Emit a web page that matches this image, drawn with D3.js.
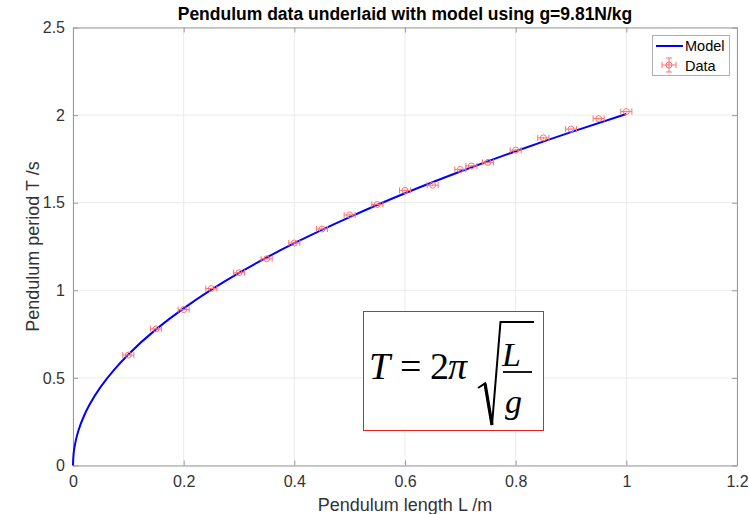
<!DOCTYPE html>
<html>
<head>
<meta charset="utf-8">
<script src="https://cdn.jsdelivr.net/npm/d3@7"></script>
<style>
	body { margin: 0; background: #fff; }
	svg { display: block; font-family: "Liberation Sans", Arial, sans-serif; }
</style>
</head>
<body>
<svg></svg>
<script>
// measured data
var lengths = [0.1, 0.15, 0.2, 0.25, 0.3, 0.35, 0.4, 0.45, 0.5, 0.55, 0.6, 0.65, 0.7, 0.72, 0.75, 0.8, 0.85, 0.9, 0.95, 1.0];
var periods = [0.63, 0.78, 0.89, 1.01, 1.10, 1.18, 1.27, 1.35, 1.43, 1.49, 1.57, 1.60, 1.69, 1.71, 1.73, 1.80, 1.87, 1.92, 1.98, 2.02];
var lengthErr = 0.01;
var periodErr = 0.005;

// model curve
var modelL = [0, 0.001, 0.002, 0.005, 0.01, 0.02, 0.03, 0.05, 0.075, 0.1, 0.15, 0.2, 0.3, 0.4, 0.5, 0.6, 0.7, 0.8, 0.9, 1.0];
var modelT = [0, 0.063, 0.090, 0.142, 0.201, 0.284, 0.348, 0.449, 0.549, 0.634, 0.777, 0.897, 1.099, 1.269, 1.418, 1.554, 1.678, 1.794, 1.903, 2.006];

var xTicks = [0, 0.2, 0.4, 0.6, 0.8, 1, 1.2];
var yTicks = [0, 0.5, 1, 1.5, 2, 2.5];

var width = 749;
var height = 514;
var margin = {
	top: 27.5,
	bottom: 48.5,
	left: 73,
	right: 12
};
var w = width - margin.left - margin.right;
var h = height - margin.top - margin.bottom;

var svg = d3.select('svg')
	.attr('width', width)
	.attr('height', height);

var x = d3.scaleLinear()
	.range([0, w])
	.domain([0, 1.2]);

var y = d3.scaleLinear()
	.range([h, 0])
	.domain([0, 2.5]);

var g = svg.append('g')
	.attr('transform', `translate(${margin.left},${margin.top})`);

// grid
g.selectAll('.vgrid')
	.data(xTicks)
	.enter().append('line')
	.attr('x1', d => x(d)).attr('x2', d => x(d))
	.attr('y1', 0).attr('y2', h)
	.attr('stroke', '#ebebeb');

g.selectAll('.hgrid')
	.data(yTicks)
	.enter().append('line')
	.attr('y1', d => y(d)).attr('y2', d => y(d))
	.attr('x1', 0).attr('x2', w)
	.attr('stroke', '#ebebeb');

function styleAxis(sel) {
	sel.select('.domain').attr('stroke', '#9a9a9a');
	sel.selectAll('.tick line').attr('stroke', '#9a9a9a');
	sel.selectAll('.tick text')
		.attr('fill', '#333')
		.style('font-size', '16px')
		.style('font-family', '"Liberation Sans", Arial, sans-serif');
}

var xAxis = d3.axisBottom(x)
	.tickValues(xTicks)
	.tickFormat(d3.format('~g'))
	.tickSizeInner(-5)
	.tickSizeOuter(0)
	.tickPadding(10);

g.append('g')
	.attr('transform', `translate(0,${h})`)
	.call(xAxis)
	.call(styleAxis);

g.append('g')
	.call(d3.axisTop(x).tickValues(xTicks).tickSizeInner(-5).tickSizeOuter(0).tickFormat(''))
	.call(styleAxis);

var yAxis = d3.axisLeft(y)
	.tickValues(yTicks)
	.tickFormat(d3.format('~g'))
	.tickSizeInner(-5)
	.tickSizeOuter(0)
	.tickPadding(8);

g.append('g')
	.call(yAxis)
	.call(styleAxis);

g.append('g')
	.attr('transform', `translate(${w},0)`)
	.call(d3.axisRight(y).tickValues(yTicks).tickSizeInner(-5).tickSizeOuter(0).tickFormat(''))
	.call(styleAxis);

// labels
svg.append('text')
	.attr('x', margin.left + w / 2)
	.attr('y', 20)
	.attr('text-anchor', 'middle')
	.style('font-size', '17.5px')
	.style('font-weight', 'bold')
	.attr('fill', '#000')
	.text('Pendulum data underlaid with model using g=9.81N/kg');

svg.append('text')
	.attr('x', margin.left + w / 2)
	.attr('y', 511)
	.attr('text-anchor', 'middle')
	.style('font-size', '18px')
	.attr('fill', '#333')
	.text('Pendulum length L /m');

svg.append('text')
	.attr('transform', `translate(39,${margin.top + h / 2}) rotate(-90)`)
	.attr('text-anchor', 'middle')
	.style('font-size', '18px')
	.attr('fill', '#333')
	.text('Pendulum period T /s');

// model line
var modelData = modelL.map((d, i) => ({ x: d, y: modelT[i] }));

var lineFunction = d3.line()
	.x(function(d) { return x(d.x); })
	.y(function(d) { return y(d.y); })
	.curve(d3.curveMonotoneY);

g.append('path')
	.attr('d', lineFunction(modelData))
	.attr('stroke', '#0000ff')
	.attr('stroke-width', 2)
	.attr('fill', 'none');

// data with error bars
var errColor = '#ff7070';
var pts = g.selectAll('.pt')
	.data(lengths.map((d, i) => ({ x: d, y: periods[i] })))
	.enter().append('g')
	.attr('stroke', errColor)
	.attr('fill', 'none')
	.attr('stroke-width', 1);

pts.append('line')
	.attr('x1', d => x(d.x - lengthErr)).attr('x2', d => x(d.x + lengthErr))
	.attr('y1', d => y(d.y)).attr('y2', d => y(d.y));
pts.append('line')
	.attr('x1', d => x(d.x - lengthErr)).attr('x2', d => x(d.x - lengthErr))
	.attr('y1', d => y(d.y) - 3).attr('y2', d => y(d.y) + 3);
pts.append('line')
	.attr('x1', d => x(d.x + lengthErr)).attr('x2', d => x(d.x + lengthErr))
	.attr('y1', d => y(d.y) - 3).attr('y2', d => y(d.y) + 3);
pts.append('line')
	.attr('x1', d => x(d.x)).attr('x2', d => x(d.x))
	.attr('y1', d => y(d.y - periodErr)).attr('y2', d => y(d.y + periodErr));
pts.append('circle')
	.attr('cx', d => x(d.x))
	.attr('cy', d => y(d.y))
	.attr('r', 3);

// legend
var lg = svg.append('g').attr('transform', 'translate(652,35)');
lg.append('rect')
	.attr('x', 0.5).attr('y', 0.5)
	.attr('width', 77).attr('height', 40)
	.attr('fill', '#fff')
	.attr('stroke', '#b0b0b0');
lg.append('line')
	.attr('x1', 4).attr('x2', 31)
	.attr('y1', 11).attr('y2', 11)
	.attr('stroke', '#0000ff').attr('stroke-width', 2);
lg.append('text')
	.attr('x', 33).attr('y', 16)
	.style('font-size', '14.5px')
	.attr('fill', '#000')
	.text('Model');
var lm = lg.append('g')
	.attr('transform', 'translate(17,30)')
	.attr('stroke', errColor).attr('fill', 'none');
lm.append('line').attr('x1', -7).attr('x2', 7).attr('y1', 0).attr('y2', 0);
lm.append('line').attr('x1', -7).attr('x2', -7).attr('y1', -3).attr('y2', 3);
lm.append('line').attr('x1', 7).attr('x2', 7).attr('y1', -3).attr('y2', 3);
lm.append('line').attr('x1', 0).attr('x2', 0).attr('y1', -7).attr('y2', 7);
lm.append('line').attr('x1', -3).attr('x2', 3).attr('y1', -7).attr('y2', -7);
lm.append('line').attr('x1', -3).attr('x2', 3).attr('y1', 7).attr('y2', 7);
lm.append('circle').attr('r', 3);
lg.append('text')
	.attr('x', 33).attr('y', 36)
	.style('font-size', '14.5px')
	.attr('fill', '#000')
	.text('Data');

// formula box
var fb = svg.append('g');
fb.append('rect')
	.attr('x', 363.5).attr('y', 311.5)
	.attr('width', 180).attr('height', 119)
	.attr('fill', '#fff')
	.attr('stroke', '#e82020');

var serif = '"Liberation Serif", "Times New Roman", serif';
function ftext(tx, ty, size, italic, s) {
	fb.append('text')
		.attr('x', tx).attr('y', ty)
		.style('font-family', serif)
		.style('font-size', size + 'px')
		.style('font-style', italic ? 'italic' : 'normal')
		.attr('fill', '#000')
		.text(s);
}
ftext(369, 379, 38, true, 'T');
ftext(400, 379, 38, false, '=');
ftext(430, 379, 38, false, '2');
ftext(448, 379, 38, true, 'π');
ftext(502, 366, 34, true, 'L');
ftext(505, 413, 34, true, 'g');

fb.append('line')
	.attr('x1', 503).attr('x2', 532)
	.attr('y1', 372).attr('y2', 372)
	.attr('stroke', '#000').attr('stroke-width', 1.8);
fb.append('path')
	.attr('d', 'M478,388 L485,383.5 L492,425 L500.5,322 L534,322')
	.attr('stroke', '#000')
	.attr('stroke-width', 2)
	.attr('stroke-linejoin', 'miter')
	.attr('fill', 'none');
fb.append('path')
	.attr('d', 'M485,383.5 L492,425')
	.attr('stroke', '#000')
	.attr('stroke-width', 3.2)
	.attr('fill', 'none');
</script>
</body>
</html>
